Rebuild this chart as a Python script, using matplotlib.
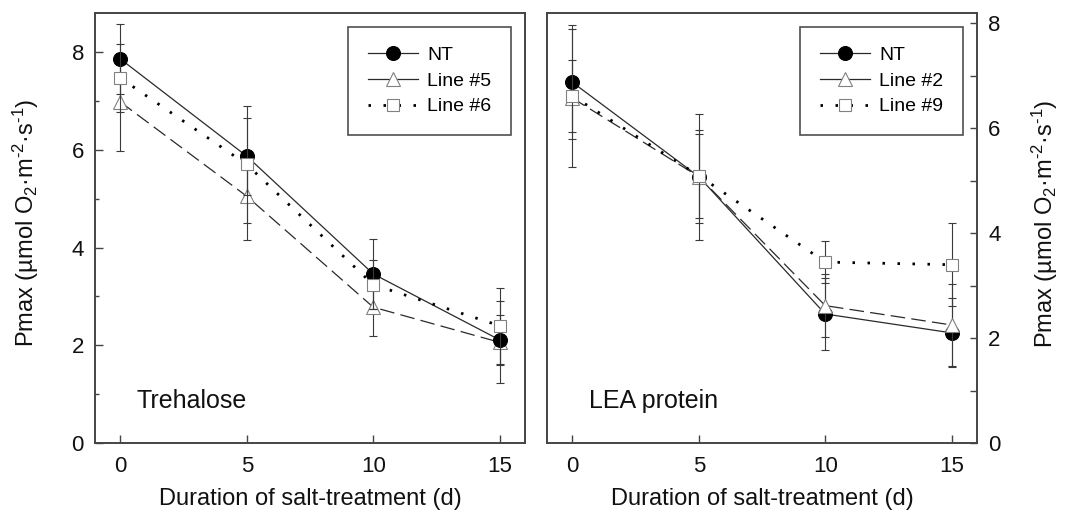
import matplotlib
matplotlib.use("Agg")
import matplotlib.pyplot as plt
from matplotlib.lines import Line2D

plt.rcParams["font.family"] = ["Liberation Sans", "DejaVu Sans"]
plt.rcParams["mathtext.fontset"] = "custom"
plt.rcParams["mathtext.rm"] = "Liberation Sans"
plt.rcParams["mathtext.it"] = "Liberation Sans:italic"
plt.rcParams["mathtext.default"] = "regular"
plt.rcParams["lines.scale_dashes"] = False

# Salt-treatment duration (days)
days = [0, 5, 10, 15]

# Trehalose panel: Pmax means and error
treh_labels = ["NT", "Line #5", "Line #6"]
treh_nt = [7.86, 5.87, 3.46, 2.11]
treh_nt_err = [0.71, 0.79, 0.71, 0.51]
treh_l5 = [6.98, 5.05, 2.78, 2.06]
treh_l5_err = [1.00, 0.90, 0.60, 0.84]
treh_l6 = [7.47, 5.70, 3.24, 2.40]
treh_l6_err = [0.70, 1.19, 0.50, 0.78]

# LEA protein panel: Pmax means and error
lea_labels = ["NT", "Line #2", "Line #9"]
lea_nt = [6.88, 5.08, 2.46, 2.10]
lea_nt_err = [1.09, 1.20, 0.68, 0.66]
lea_l2 = [6.58, 5.08, 2.62, 2.25]
lea_l2_err = [1.31, 0.89, 0.60, 0.78]
lea_l9 = [6.62, 5.10, 3.45, 3.40]
lea_l9_err = [0.68, 0.80, 0.40, 0.79]

x_ticks = [0, 5, 10, 15]
y_ticks = [0, 2, 4, 6, 8]

ylabel = "Pmax (µmol O$_2$·m$^{\u20102}$·s$^{\u20101}$)"
xlabel = "Duration of salt-treatment (d)"

SPINE = "#444444"
LINE = "#2a2a2a"
EDGE = "#808080"

styles = [
    dict(marker="o", ms=10, mfc="black", mec="black", mew=0.8,
         ls="-", lw=0.9, color=LINE),
    dict(marker="^", ms=9.5, mfc="white", mec=EDGE, mew=0.8,
         ls=(0, (10.5, 4.5)), lw=0.9, color=LINE),
    dict(marker="s", ms=8.6, mfc="white", mec=EDGE, mew=0.8,
         ls=(0, (1.8, 9.0)), lw=2.0, color="black"),
]

W, H = 1065, 527
fig = plt.figure(figsize=(W / 100, H / 100), dpi=100)
ax1 = fig.add_axes([95 / W, 1 - 443 / H, 430 / W, 430 / H])
ax2 = fig.add_axes([547 / W, 1 - 443 / H, 430 / W, 430 / H])


def draw_panel(ax, series, labels, zorders, ylim, text):
    for (y, err), st, z in zip(series, styles, zorders):
        ax.errorbar(days, y, yerr=err, fmt="none", ecolor="#3a3a3a",
                    elinewidth=0.8, capsize=3, capthick=0.8, zorder=z - 0.5)
        ax.plot(days, y, zorder=z, **st)
    handles = []
    for st in styles:
        hs = dict(st)
        if hs["ls"] != "-" and hs["lw"] < 1.5:
            hs["ls"] = "-"
        handles.append(Line2D([], [], **hs))
    leg = ax.legend(handles, labels, loc="upper right", fontsize=14,
                    frameon=True, fancybox=False, borderpad=1.03,
                    labelspacing=0.41, handlelength=2.55, handletextpad=0.5,
                    borderaxespad=0.7)
    leg.get_frame().set_edgecolor("#222222")
    leg.get_frame().set_linewidth(1.2)
    ax.set_xlim(-1, 16)
    ax.set_ylim(*ylim)
    ax.set_xticks(x_ticks)
    ax.set_yticks(y_ticks)
    ax.set_yticks([1, 3, 5, 7], minor=True)
    ax.tick_params(axis="both", which="both", direction="in",
                   colors=SPINE, labelcolor="#111111", labelsize=16)
    ax.tick_params(axis="x", which="major", length=6, width=1, pad=9)
    ax.tick_params(axis="x", which="minor", bottom=False)
    for sp in ax.spines.values():
        sp.set_color(SPINE)
        sp.set_linewidth(1.4)
    ax.text(0.097, 0.098, text, transform=ax.transAxes, fontsize=18,
            ha="left", va="center", color="#111111")
    ax.set_xlabel(xlabel, fontsize=17, color="#111111")
    ax.xaxis.label.set_va("center")
    ax.xaxis.set_label_coords(0.5, -0.13)


draw_panel(ax1,
           [(treh_nt, treh_nt_err), (treh_l5, treh_l5_err), (treh_l6, treh_l6_err)],
           treh_labels, [3, 2, 4], (0, 8.8), "Trehalose")
draw_panel(ax2,
           [(lea_nt, lea_nt_err), (lea_l2, lea_l2_err), (lea_l9, lea_l9_err)],
           lea_labels, [2, 3, 4], (0, 8.2), "LEA protein")

# left panel y axis
ax1.tick_params(axis="y", which="major", length=6, width=1, pad=8)
ax1.tick_params(axis="y", which="minor", length=3, width=1)
ax1.set_ylabel(ylabel, fontsize=17, color="#111111")
ax1.yaxis.label.set_va("center")
ax1.yaxis.set_label_coords((26 - 95) / 430, 0.513)

# right panel y axis on the right side
ax2.yaxis.tick_right()
ax2.yaxis.set_label_position("right")
ax2.tick_params(axis="y", which="both", length=5, width=1, pad=8,
                left=False, right=True)
ax2.set_ylabel(ylabel, fontsize=17, color="#111111", rotation=90)
ax2.yaxis.label.set_va("center")
ax2.yaxis.set_label_coords((1045 - 547) / 430, 0.51)

fig.savefig("out.png", dpi=100)
